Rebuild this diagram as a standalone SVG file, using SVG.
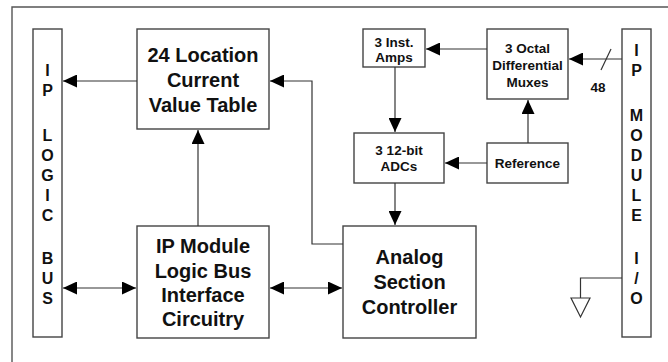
<svg xmlns="http://www.w3.org/2000/svg" width="668" height="362" viewBox="0 0 668 362">
<defs>
<style>
.box{fill:#fff;stroke:#444;stroke-width:1.4}
.ln{fill:none;stroke:#333;stroke-width:1.2}
.big{font-family:"Liberation Sans",Arial,sans-serif;font-weight:bold;font-size:20px;fill:#111;text-anchor:middle}
.sm{font-family:"Liberation Sans",Arial,sans-serif;font-weight:bold;font-size:13.5px;fill:#111;text-anchor:middle}
.vt{font-family:"Liberation Sans",Arial,sans-serif;font-weight:bold;font-size:16px;fill:#111;text-anchor:middle}
</style>
<marker id="arr" viewBox="0 0 14 13" refX="14" refY="6.5" markerWidth="14" markerHeight="13" markerUnits="userSpaceOnUse" orient="auto-start-reverse">
<path d="M0,0 L14,6.5 L0,13 Z" fill="#000"/>
</marker>
</defs>
<rect width="668" height="362" fill="#fff"/>
<path d="M12,362 V7 H668" fill="none" stroke="#555" stroke-width="1.4"/>

<g id="ip-logic-bus">
<rect class="box" x="33" y="29" width="29" height="308"/>
<text class="vt" x="47.5" y="76">I</text>
<text class="vt" x="47.5" y="96">P</text>
<text class="vt" x="47.5" y="141">L</text>
<text class="vt" x="47.5" y="161">O</text>
<text class="vt" x="47.5" y="181">G</text>
<text class="vt" x="47.5" y="201">I</text>
<text class="vt" x="47.5" y="221">C</text>
<text class="vt" x="47.5" y="264">B</text>
<text class="vt" x="47.5" y="284">U</text>
<text class="vt" x="47.5" y="304">S</text>
</g>

<g id="cvt">
<rect class="box" x="137" y="29" width="132" height="100"/>
<text class="big" x="203" y="62">24 Location</text>
<text class="big" x="203" y="87">Current</text>
<text class="big" x="203" y="112">Value Table</text>
</g>

<g id="ipm-interface">
<rect class="box" x="137" y="226" width="132" height="112"/>
<text class="big" x="203" y="253">IP Module</text>
<text class="big" x="203" y="278">Logic Bus</text>
<text class="big" x="203" y="302">Interface</text>
<text class="big" x="203" y="326">Circuitry</text>
</g>

<g id="analog-controller">
<rect class="box" x="343" y="226" width="133" height="112"/>
<text class="big" x="409.5" y="264">Analog</text>
<text class="big" x="409.5" y="289">Section</text>
<text class="big" x="409.5" y="314">Controller</text>
</g>

<g id="inst-amps">
<rect class="box" x="363" y="29" width="62" height="38"/>
<text class="sm" x="394" y="47">3 Inst.</text>
<text class="sm" x="394" y="62">Amps</text>
</g>

<g id="octal-muxes">
<rect class="box" x="487" y="29" width="81" height="70"/>
<text class="sm" x="527.5" y="53">3 Octal</text>
<text class="sm" x="527.5" y="70">Differential</text>
<text class="sm" x="527.5" y="87">Muxes</text>
</g>

<g id="adcs">
<rect class="box" x="354" y="133" width="90" height="50"/>
<text class="sm" x="399" y="155">3 12-bit</text>
<text class="sm" x="399" y="171">ADCs</text>
</g>

<g id="reference">
<rect class="box" x="487" y="143" width="81" height="40"/>
<text class="sm" x="527.5" y="168">Reference</text>
</g>

<g id="ip-module-io">
<rect class="box" x="622" y="29" width="29" height="308"/>
<text class="vt" x="636.5" y="56">I</text>
<text class="vt" x="636.5" y="76">P</text>
<text class="vt" x="636.5" y="121">M</text>
<text class="vt" x="636.5" y="141">O</text>
<text class="vt" x="636.5" y="161">D</text>
<text class="vt" x="636.5" y="181">U</text>
<text class="vt" x="636.5" y="201">L</text>
<text class="vt" x="636.5" y="221">E</text>
<text class="vt" x="636.5" y="264">I</text>
<text class="vt" x="636.5" y="284">/</text>
<text class="vt" x="636.5" y="304">O</text>
</g>

<g id="ground">
<path class="ln" d="M622,278 H580.5 V298"/>
<path d="M571,298 H590 L580.5,317 Z" fill="#fff" stroke="#333" stroke-width="1.2"/>
</g>

<g id="connectors">
<path class="ln" d="M137,81 H63" marker-end="url(#arr)"/>
<path class="ln" d="M343,244 H312 V81 H270" marker-end="url(#arr)"/>
<path class="ln" d="M198,226 V130" marker-end="url(#arr)"/>
<path class="ln" d="M63,288 H136" marker-start="url(#arr)" marker-end="url(#arr)"/>
<path class="ln" d="M270,288 H342" marker-start="url(#arr)" marker-end="url(#arr)"/>
<path class="ln" d="M487,49 H426" marker-end="url(#arr)"/>
<path class="ln" d="M622,59 H569" marker-end="url(#arr)"/>
<path class="ln" d="M611,49 L601,70"/>
<text class="sm" x="598" y="92">48</text>
<path class="ln" d="M395,67 V132" marker-end="url(#arr)"/>
<path class="ln" d="M528,143 V100" marker-end="url(#arr)"/>
<path class="ln" d="M487,163 H445" marker-end="url(#arr)"/>
<path class="ln" d="M395,183 V225" marker-end="url(#arr)"/>
</g>
</svg>
